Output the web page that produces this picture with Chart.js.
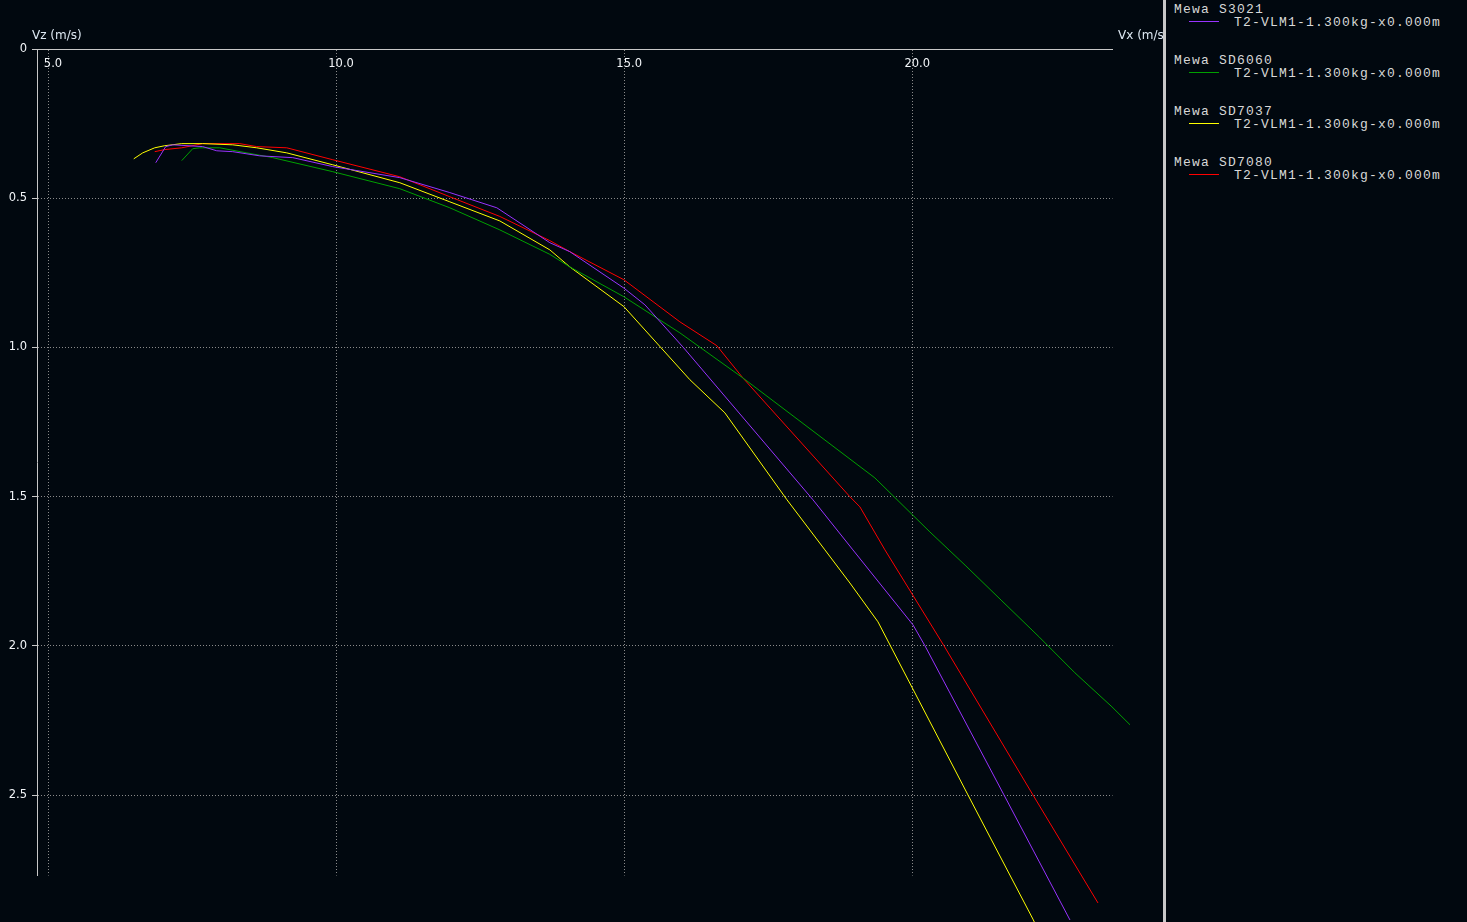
<!DOCTYPE html>
<html>
<head>
<meta charset="utf-8">
<script src="https://cdn.jsdelivr.net/npm/chart.js@4.4.1/dist/chart.umd.min.js"></script>
<style>
  html, body { margin: 0; padding: 0; background: #01080f; width: 1467px; height: 922px; overflow: hidden; }
  #wrap { position: absolute; left: 0; top: 0; width: 1163px; height: 922px; }
  #panel { position: absolute; left: 1163px; top: 0; width: 304px; height: 922px; border-left: 3px solid #c8c8c8; box-sizing: border-box; background: #01080f; }
  .lg { position: absolute; font-family: "Liberation Mono", "DejaVu Sans Mono", monospace; font-size: 13px; line-height: 14px; letter-spacing: 1.2px; color: #d8d8d8; white-space: pre; }
  .sw { position: absolute; height: 1px; width: 30px; }
</style>
</head>
<body>
<div id="wrap"><canvas id="c" width="1163" height="922"></canvas></div>
<div id="panel"></div>
<script>
// ---- data ----
const seriesNames = ["Mewa S3021", "Mewa SD6060", "Mewa SD7037", "Mewa SD7080"];
const polarName = "T2-VLM1-1.300kg-x0.000m";
const seriesColors = ["#9933ff", "#00a000", "#ffff00", "#ff0000"];

// S3021 (purple)
const s3021_vx = [6.870, 7.043, 7.165, 7.686, 7.929, 8.207, 8.675, 9.248, 9.943, 11.106, 11.974, 12.790, 13.710, 14.057, 14.995, 15.360, 16.019, 18.276, 18.970, 20.012, 20.220, 21.592, 22.738];
const s3021_vz = [0.381, 0.327, 0.321, 0.327, 0.341, 0.344, 0.358, 0.364, 0.394, 0.431, 0.481, 0.532, 0.649, 0.679, 0.801, 0.857, 0.998, 1.510, 1.678, 1.929, 1.999, 2.499, 2.918];

// SD6060 (green)
const sd6060_vx = [7.321, 7.512, 7.634, 7.981, 8.450, 8.901, 9.943, 11.106, 11.974, 12.842, 13.710, 14.057, 14.995, 15.967, 17.061, 19.352, 20.307, 20.932, 21.557, 22.199, 22.824, 23.467, 23.780];
const sd6060_vz = [0.374, 0.334, 0.331, 0.331, 0.348, 0.364, 0.411, 0.468, 0.532, 0.606, 0.688, 0.730, 0.830, 0.951, 1.102, 1.437, 1.618, 1.732, 1.849, 1.969, 2.090, 2.204, 2.264];

// SD7037 (yellow)
const sd7037_vx = [6.488, 6.644, 6.852, 7.026, 7.321, 7.686, 8.207, 8.623, 9.144, 9.943, 11.106, 11.974, 12.842, 13.710, 14.057, 14.995, 16.141, 16.748, 17.825, 18.484, 18.918, 19.405, 20.967, 22.095, 22.180];
const sd7037_vz = [0.368, 0.348, 0.331, 0.324, 0.317, 0.317, 0.321, 0.331, 0.348, 0.388, 0.448, 0.512, 0.576, 0.673, 0.730, 0.863, 1.108, 1.219, 1.510, 1.678, 1.789, 1.919, 2.499, 2.915, 2.950];

// SD7080 (red)
const sd7080_vx = [6.852, 7.026, 7.321, 7.686, 8.328, 8.623, 9.144, 9.943, 11.106, 11.974, 12.842, 13.710, 14.057, 14.995, 15.967, 16.609, 17.061, 18.918, 19.092, 19.526, 20.550, 22.095, 23.224];
const sd7080_vz = [0.344, 0.337, 0.331, 0.317, 0.317, 0.327, 0.331, 0.371, 0.428, 0.495, 0.561, 0.642, 0.679, 0.773, 0.914, 0.994, 1.102, 1.500, 1.534, 1.678, 1.999, 2.499, 2.861];

const xTicksStep = 5;     // Vx tick step (5.0, 10.0, 15.0, 20.0)
const yTicksStep = 0.5;   // Vz tick step (0, 0.5 ... 2.5)
const xRange = [4.809, 23.476];
const yRange = [0, 2.769];

const allVx = [s3021_vx, sd6060_vx, sd7037_vx, sd7080_vx];
const allVz = [s3021_vz, sd6060_vz, sd7037_vz, sd7080_vz];

function pts(xs, ys) { return xs.map((x, i) => ({ x: x, y: ys[i] })); }

const datasets = seriesNames.map((n, i) => ({
  label: n,
  data: pts(allVx[i], allVz[i]),
  borderColor: seriesColors[i],
  backgroundColor: seriesColors[i],
  borderWidth: 1,
  pointRadius: 0,
  tension: 0,
  fill: false,
  clip: false
}));

const axisTitles = {
  id: 'axisTitles',
  afterDraw(chart) {
    const ctx = chart.ctx;
    ctx.save();
    ctx.font = '12px "DejaVu Sans"';
    ctx.fillStyle = '#dde8f2';
    ctx.textBaseline = 'middle';
    ctx.textAlign = 'left';
    ctx.fillText('Vz (m/s)', 32, 36);
    ctx.fillText('Vx (m/s)', 1118, 36);
    ctx.restore();
  }
};

new Chart(document.getElementById('c'), {
  type: 'line',
  data: { datasets: datasets },
  plugins: [axisTitles],
  options: {
    responsive: false,
    animation: false,
    events: [],
    layout: { padding: { left: 0, top: 0, right: 50.5, bottom: 46.5 } },
    plugins: { legend: { display: false }, tooltip: { enabled: false }, title: { display: false } },
    scales: {
      x: {
        type: 'linear',
        position: 'top',
        min: xRange[0], max: xRange[1],
        afterFit(s) { s.height = 49; },
        ticks: {
          stepSize: xTicksStep, includeBounds: false, mirror: true, padding: 8,
          labelOffset: 5, maxRotation: 0, autoSkip: false,
          color: '#f2f5f8', font: { family: 'DejaVu Sans', size: 11.5 },
          callback: v => Number(v).toFixed(1)
        },
        grid: { color: '#8a8a8a', drawTicks: false, tickLength: 0, lineWidth: 1 },
        border: { color: '#c8c8c8', width: 1, dash: [1, 2] }
      },
      y: {
        type: 'linear',
        reverse: true,
        min: yRange[0], max: yRange[1],
        afterFit(s) { s.width = 37; },
        ticks: {
          stepSize: yTicksStep, includeBounds: false, padding: 5,
          color: '#f2f5f8', font: { family: 'DejaVu Sans', size: 11.5 },
          callback: v => (v === 0 ? '0' : Number(v).toFixed(1))
        },
        grid: { color: '#8a8a8a', tickLength: 5, tickColor: '#c8c8c8', tickBorderDash: [], lineWidth: 1 },
        border: { color: '#c8c8c8', width: 1, dash: [1, 2] }
      }
    }
  }
});

// legend panel (HTML); positions relative to panel padding box (after 3px border)
const panel = document.getElementById('panel');
seriesNames.forEach((n, i) => {
  const t1 = document.createElement('div');
  t1.className = 'lg';
  t1.style.left = (1174 - 1166) + 'px';
  t1.style.top = (2.5 + 51 * i) + 'px';
  t1.textContent = n;
  panel.appendChild(t1);
  const sw = document.createElement('div');
  sw.className = 'sw';
  sw.style.left = (1189 - 1166) + 'px';
  sw.style.top = (21 + 51 * i) + 'px';
  sw.style.background = seriesColors[i];
  panel.appendChild(sw);
  const t2 = document.createElement('div');
  t2.className = 'lg';
  t2.style.left = (1234 - 1166) + 'px';
  t2.style.top = (15.5 + 51 * i) + 'px';
  t2.textContent = polarName;
  panel.appendChild(t2);
});
</script>
</body>
</html>
